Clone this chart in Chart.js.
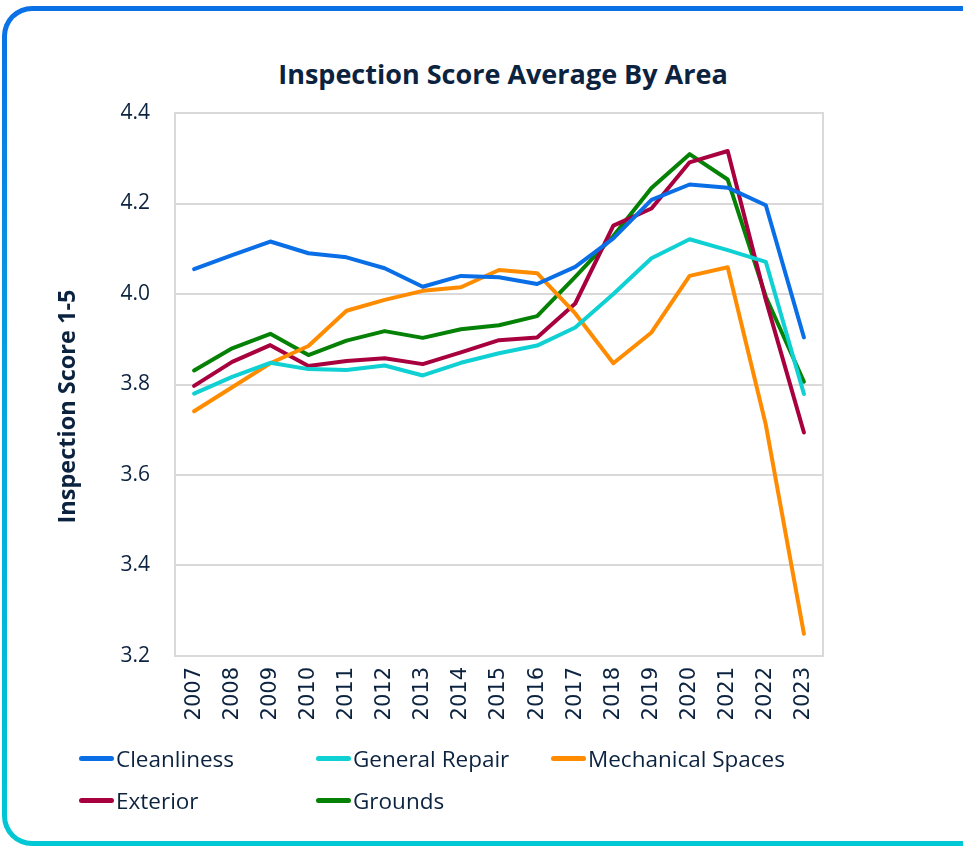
<!DOCTYPE html>
<html>
<head>
<meta charset="utf-8">
<script src="https://cdn.jsdelivr.net/npm/chart.js@4.4.1/dist/chart.umd.min.js"></script>
<style>
  html, body { margin: 0; padding: 0; background: #fff; }
  body { width: 963px; height: 846px; position: relative; overflow: hidden; font-family: "Open Sans", sans-serif; color: #0c2340; }
  .frame {
    position: absolute; left: 2px; top: 6px; width: 1000px; height: 840px; box-sizing: border-box;
    border-radius: 30px; padding: 5px;
    background: linear-gradient(to bottom, #0a70e6 0%, #05a8de 50%, #00c8d4 100%);
  }
  .frame-inner { width: 100%; height: 100%; background: #fff; border-radius: 25px; }
  #title { position: absolute; top: 55px; left: 0; width: 1006px; text-align: center; font-size: 27px; font-weight: 700; color: #0c2340; }
  #wrap { position: absolute; left: 0; top: 0; width: 963px; height: 846px; }
  #legend { position: absolute; left: 79px; top: 742px; width: 760px; display: grid; grid-template-columns: 237px 235px 260px; row-gap: 10px; }
  .item { display: flex; align-items: center; height: 32px; font-size: 22.5px; color: #0c2340; white-space: nowrap; }
  .swatch { width: 35px; height: 5px; border-radius: 3px; margin-right: 2px; }
</style>
</head>
<body>
<div class="frame"><div class="frame-inner"></div></div>
<div id="title">Inspection Score Average By Area</div>
<div id="wrap"><canvas id="chart"></canvas></div>
<div id="legend"></div>
<script>
const years = ['2007','2008','2009','2010','2011','2012','2013','2014','2015','2016','2017','2018','2019','2020','2021','2022','2023'];
const cleanliness = [4.055, 4.086, 4.116, 4.090, 4.081, 4.057, 4.016, 4.040, 4.037, 4.022, 4.060, 4.123, 4.208, 4.242, 4.235, 4.196, 3.904];
const generalRepair = [3.780, 3.817, 3.848, 3.834, 3.832, 3.842, 3.820, 3.848, 3.869, 3.886, 3.926, 4.000, 4.079, 4.121, 4.097, 4.071, 3.779];
const mechanical = [3.741, 3.794, 3.847, 3.885, 3.963, 3.987, 4.007, 4.015, 4.053, 4.046, 3.957, 3.847, 3.915, 4.040, 4.059, 3.711, 3.249];
const exterior = [3.797, 3.850, 3.887, 3.841, 3.852, 3.858, 3.845, 3.871, 3.898, 3.904, 3.979, 4.151, 4.189, 4.291, 4.316, 3.987, 3.694];
const grounds = [3.831, 3.880, 3.912, 3.865, 3.897, 3.918, 3.903, 3.922, 3.931, 3.951, 4.038, 4.128, 4.234, 4.309, 4.253, 3.994, 3.806];
const yTitle = 'Inspection Score 1-5';

const textColor = '#0c2340';
const gridColor = '#d9d9d9';

const series = [
    { label: 'Cleanliness', data: cleanliness, color: '#0a6fe6' },
    { label: 'General Repair', data: generalRepair, color: '#0fd0d2' },
    { label: 'Mechanical Spaces', data: mechanical, color: '#ff8c00' },
    { label: 'Exterior', data: exterior, color: '#a8003f' },
    { label: 'Grounds', data: grounds, color: '#058205' }
];

// grey box round the plot area, and the y title (sits a bit below the axis middle)
const plotBox = {
    id: 'plotBox',
    beforeDatasetsDraw(chart) {
        const a = chart.chartArea, ctx = chart.ctx;
        ctx.save();
        ctx.strokeStyle = gridColor;
        ctx.lineWidth = 2;
        ctx.strokeRect(a.left, a.top, a.right - a.left, a.bottom - a.top);
        ctx.restore();
    },
    afterDraw(chart) {
        const a = chart.chartArea, ctx = chart.ctx;
        ctx.save();
        ctx.translate(68, (a.top + a.bottom) / 2 + 22);
        ctx.rotate(-Math.PI / 2);
        ctx.font = 'bold 23.5px "Open Sans"';
        ctx.fillStyle = textColor;
        ctx.textAlign = 'center';
        ctx.textBaseline = 'middle';
        ctx.fillText(yTitle, 0, 0);
        ctx.restore();
    }
};

const canvas = document.getElementById('chart');
const chart = new Chart(canvas.getContext('2d'), {
    type: 'line',
    data: {
        labels: years,
        datasets: series.map(s => ({
            label: s.label, data: s.data, borderColor: s.color, backgroundColor: s.color,
            borderWidth: 4, pointRadius: 0, tension: 0, borderCapStyle: 'round', borderJoinStyle: 'round'
        }))
    },
    options: {
        responsive: true,
        maintainAspectRatio: false,
        animation: false,
        layout: { padding: { left: 0, top: 113, right: 140, bottom: 0 } },
        plugins: { legend: { display: false }, title: { display: false }, tooltip: { enabled: false } },
        scales: {
            x: {
                offset: true,
                grid: { display: false, drawTicks: false },
                border: { display: false },
                ticks: { color: textColor, font: { family: 'DejaVu Sans', size: 21 }, minRotation: 90, maxRotation: 90, padding: 11, autoSkip: false },
                afterFit: scale => { scale.height = 190; }
            },
            y: {
                min: 3.2, max: 4.4,
                grid: { color: gridColor, lineWidth: 2, drawTicks: false },
                border: { display: false },
                ticks: { stepSize: 0.2, color: textColor, font: { family: 'Open Sans', size: 21 }, padding: 25, callback: v => v.toFixed(1) },
                afterFit: scale => { scale.width = 175; }
            }
        }
    },
    plugins: [plotBox]
});

// html legend in three columns, built from the datasets
const legend = document.getElementById('legend');
chart.data.datasets.forEach(ds => {
    const item = document.createElement('div');
    item.className = 'item';
    item.innerHTML = '<span class="swatch" style="background:' + ds.borderColor + '"></span>' + ds.label;
    legend.appendChild(item);
});
</script>
</body>
</html>
